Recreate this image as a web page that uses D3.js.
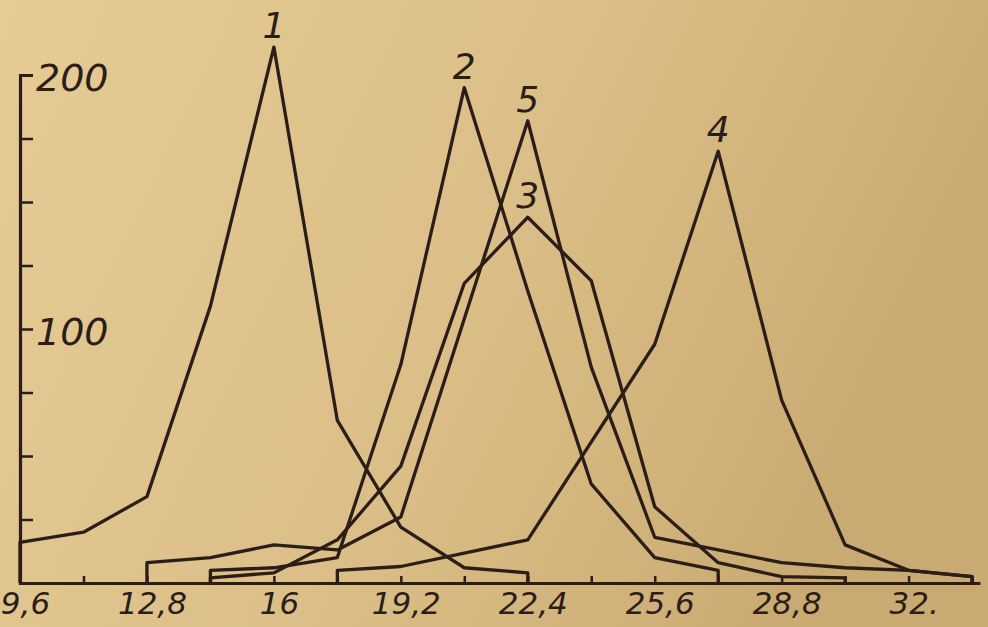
<!DOCTYPE html>
<html>
<head>
<meta charset="utf-8">
<script src="https://cdn.jsdelivr.net/npm/d3@7"></script>
<style>
    body { margin: 0; background: #dcbf88; }
    svg { display: block; }
    .axis path, .axis line { stroke: #2b1d18; }
    .axis text { fill: #2b1d18; font-family: "DejaVu Sans", sans-serif; font-style: italic; }
</style>
</head>
<body>
<div id="chart"></div>
<script>
// x ticks (comma decimals as in the original)
const xTickValues = [9.6, 12.8, 16, 19.2, 22.4, 25.6, 28.8, 32];
const xTickLabels = ["9,6", "12,8", "16", "19,2", "22,4", "25,6", "28,8", "32."];
const xMinorTicks = [11.2, 14.4, 17.6, 20.8, 24, 27.2, 30.4, 33.6];
const yTickValues = [25, 50, 75, 100, 125, 150, 175, 200];
const yTickLabels = { 100: "100", 200: "200" };

// series
const seriesNames = ["1", "2", "3", "4", "5"];
const s1x = [9.6, 11.2, 12.8, 14.4, 16, 17.6, 19.2, 20.8, 22.4];
const s1y = [16, 20, 34, 109, 211, 64, 22, 6, 4];
const s2x = [14.4, 16, 17.6, 19.2, 20.8, 22.4, 24, 25.6, 27.2];
const s2y = [5, 6, 10, 86, 195, 115, 39, 10, 5];
const s3x = [14.4, 16, 17.6, 19.2, 20.8, 22.4, 24, 25.6, 27.2, 28.8, 30.4];
const s3y = [2, 4, 17, 46, 118, 144, 119, 30, 8, 2.5, 2];
const s4x = [17.6, 19.2, 22.4, 25.6, 27.2, 28.8, 30.4, 32, 33.6];
const s4y = [5, 6.5, 17, 94, 170, 72, 15, 5, 2.5];
const s5x = [12.8, 14.4, 16, 17.6, 19.2, 20.8, 22.4, 24, 25.6, 27.2, 28.8, 30.4, 32, 33.6];
const s5y = [8, 10, 15, 13, 26, 104, 182, 85, 18, 13, 8, 6, 5, 2.5];

const seriesX = [s1x, s2x, s3x, s4x, s5x];
const seriesY = [s1y, s2y, s3y, s4y, s5y];

const width = 988, height = 627;
const ink = "#2b1d18";

const svg = d3.select("#chart").append("svg")
    .attr("width", width)
    .attr("height", height);

// paper tone
const grad = svg.append("defs").append("linearGradient")
    .attr("id", "paper").attr("x1", "0").attr("x2", "1").attr("y1", "0").attr("y2", "0.3");
grad.append("stop").attr("offset", "0").attr("stop-color", "#e6cb94");
grad.append("stop").attr("offset", "0.55").attr("stop-color", "#dcbf88");
grad.append("stop").attr("offset", "1").attr("stop-color", "#c9aa72");
svg.append("rect").attr("width", width).attr("height", height).attr("fill", "url(#paper)");

const x = d3.scaleLinear().domain([9.6, 33.8]).range([20, 980]);
const y = d3.scaleLinear().domain([0, 200]).range([583, 75]);

// x axis: small upward ticks, labels below
svg.append("g")
    .attr("class", "axis")
    .attr("transform", "translate(0," + y(0) + ")")
    .call(d3.axisBottom(x).tickValues(xTickValues.concat(xMinorTicks)).tickSizeInner(-7).tickSizeOuter(0).tickFormat(""))
    .call(g => g.select(".domain").attr("stroke-width", 3.2))
    .call(g => g.selectAll(".tick line").attr("stroke-width", 2.5));

svg.append("g")
    .attr("class", "axis")
    .attr("transform", "translate(5," + y(0) + ")")
    .call(d3.axisBottom(x).tickValues(xTickValues).tickSize(0).tickPadding(9).tickFormat((d, i) => xTickLabels[i]))
    .call(g => g.select(".domain").remove())
    .selectAll("text")
    .style("font-size", "31px");

// y axis: ticks pointing right, labels beside them
svg.append("g")
    .attr("class", "axis")
    .attr("transform", "translate(" + x(9.6) + ",0)")
    .call(d3.axisRight(y).tickValues(yTickValues).tickSizeInner(13).tickSizeOuter(13).tickPadding(3)
        .tickFormat(d => yTickLabels[d] || ""))
    .call(g => g.select(".domain").attr("stroke-width", 3.2))
    .call(g => g.selectAll(".tick line").attr("stroke-width", 2.5))
    .selectAll("text")
    .attr("dy", "0.42em")
    .style("font-size", "38px");

// polygons: each curve dropped to the base line at both ends
const line = d3.line()
    .x(d => x(d[0]))
    .y(d => y(d[1]))
    .curve(d3.curveLinear);

seriesX.forEach((xs, i) => {
    const ys = seriesY[i];
    const pts = xs.map((v, j) => [v, ys[j]]);
    pts.unshift([xs[0], 0]);
    pts.push([xs[xs.length - 1], 0]);

    svg.append("path")
        .datum(pts)
        .attr("fill", "none")
        .attr("stroke", ink)
        .attr("stroke-width", 3.3)
        .attr("stroke-linejoin", "round")
        .attr("d", line);

    const top = d3.maxIndex(ys);
    svg.append("text")
        .attr("x", x(xs[top]))
        .attr("y", y(ys[top]) - 9)
        .attr("text-anchor", "middle")
        .style("font-family", "DejaVu Sans, sans-serif")
        .style("font-style", "italic")
        .style("font-size", "36px")
        .style("fill", ink)
        .text(seriesNames[i]);
});
</script>
</body>
</html>
